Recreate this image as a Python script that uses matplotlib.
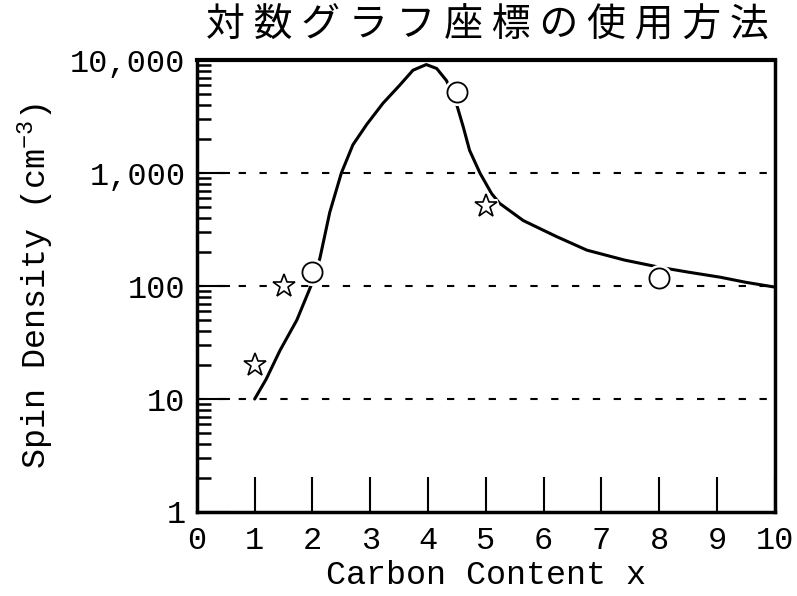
import matplotlib
matplotlib.use("Agg")
import matplotlib.pyplot as plt
import numpy as np

# data
curve_x = [1.0, 1.2, 1.44, 1.73, 2.0, 2.13, 2.3, 2.5, 2.7, 2.94, 3.22, 3.51, 3.74, 3.97,
           4.15, 4.32, 4.49, 4.61, 4.72, 4.9, 5.1, 5.24, 5.65, 6.22, 6.75, 7.4, 8.0, 8.5, 9.05, 9.5, 10.0]
curve_y = [10, 15, 27, 50, 108, 177, 450, 1000, 1780, 2700, 4150, 6000, 8150, 9150,
           8450, 6600, 4150, 2570, 1590, 1000, 660, 540, 380, 275, 208, 170, 147, 133, 120, 108, 98]
circle_x = [2, 4.5, 8]
circle_y = [133, 5200, 118]
star_x = [1, 1.5, 5]
star_y = [20, 100, 510]

xticks = [0, 1, 2, 3, 4, 5, 6, 7, 8, 9, 10]
yticks = [1, 10, 100, 1000, 10000]
ytick_labels = ["1", "10", "100", "1,000", "10,000"]
grid_y = [10, 100, 1000]

mono = "Liberation Mono"
plt.rcParams["mathtext.fontset"] = "custom"
plt.rcParams["mathtext.rm"] = mono
plt.rcParams["mathtext.it"] = mono

fig = plt.figure(figsize=(7.97, 5.96), dpi=100)
ax = fig.add_axes([0.247, 0.141, 0.725, 0.758])
ax.set_yscale("log")
ax.set_xlim(0, 10)
ax.set_ylim(1, 10000)

# dashed grid lines at the decades
for g in grid_y:
    ax.axhline(g, color="k", lw=1.5, ls=(0, (3.5, 6.5)), zorder=1)

ax.plot(curve_x, curve_y, color="k", lw=2.2, zorder=2, solid_capstyle="round")

# white halos give the little gaps where the curve meets a marker
ax.plot(circle_x, circle_y, "o", ms=14.5, mfc="white", mec="white", mew=5, zorder=3)
ax.plot(star_x, star_y, "*", ms=17, mfc="white", mec="white", mew=5, zorder=3)
ax.plot(circle_x, circle_y, "o", ms=14.5, mfc="white", mec="k", mew=1.3, zorder=4)
ax.plot(star_x, star_y, "*", ms=17, mfc="white", mec="k", mew=1.2, zorder=4)

for s in ax.spines.values():
    s.set_linewidth(2.5)
ax.spines["top"].set_linewidth(3)

ax.set_xticks(xticks)
ax.set_xticklabels([str(t) for t in xticks], fontfamily=mono, fontsize=23)
ax.set_yticks(yticks)
ax.set_yticklabels(ytick_labels, fontfamily=mono, fontsize=23)
ax.tick_params(axis="x", direction="in", length=25, width=1.5, pad=10)
ax.tick_params(axis="y", which="major", direction="in", length=24, width=1.5, pad=8)
ax.tick_params(axis="y", which="minor", direction="in", length=10, width=1.8)
ax.yaxis.set_minor_formatter(matplotlib.ticker.NullFormatter())

ax.set_xlabel("Carbon Content x", fontfamily=mono, fontsize=24, labelpad=3)
ax.set_ylabel("Spin Density (cm$^{-3}$)", fontfamily=mono, fontsize=24, labelpad=10)

fig.text(0.612, 0.958, "対 数 グ ラ フ 座 標 の 使 用 方 法", ha="center", va="center",
         fontfamily=["Noto Sans CJK JP", "DejaVu Sans"], fontsize=28)

fig.savefig("out.png", dpi=100)
